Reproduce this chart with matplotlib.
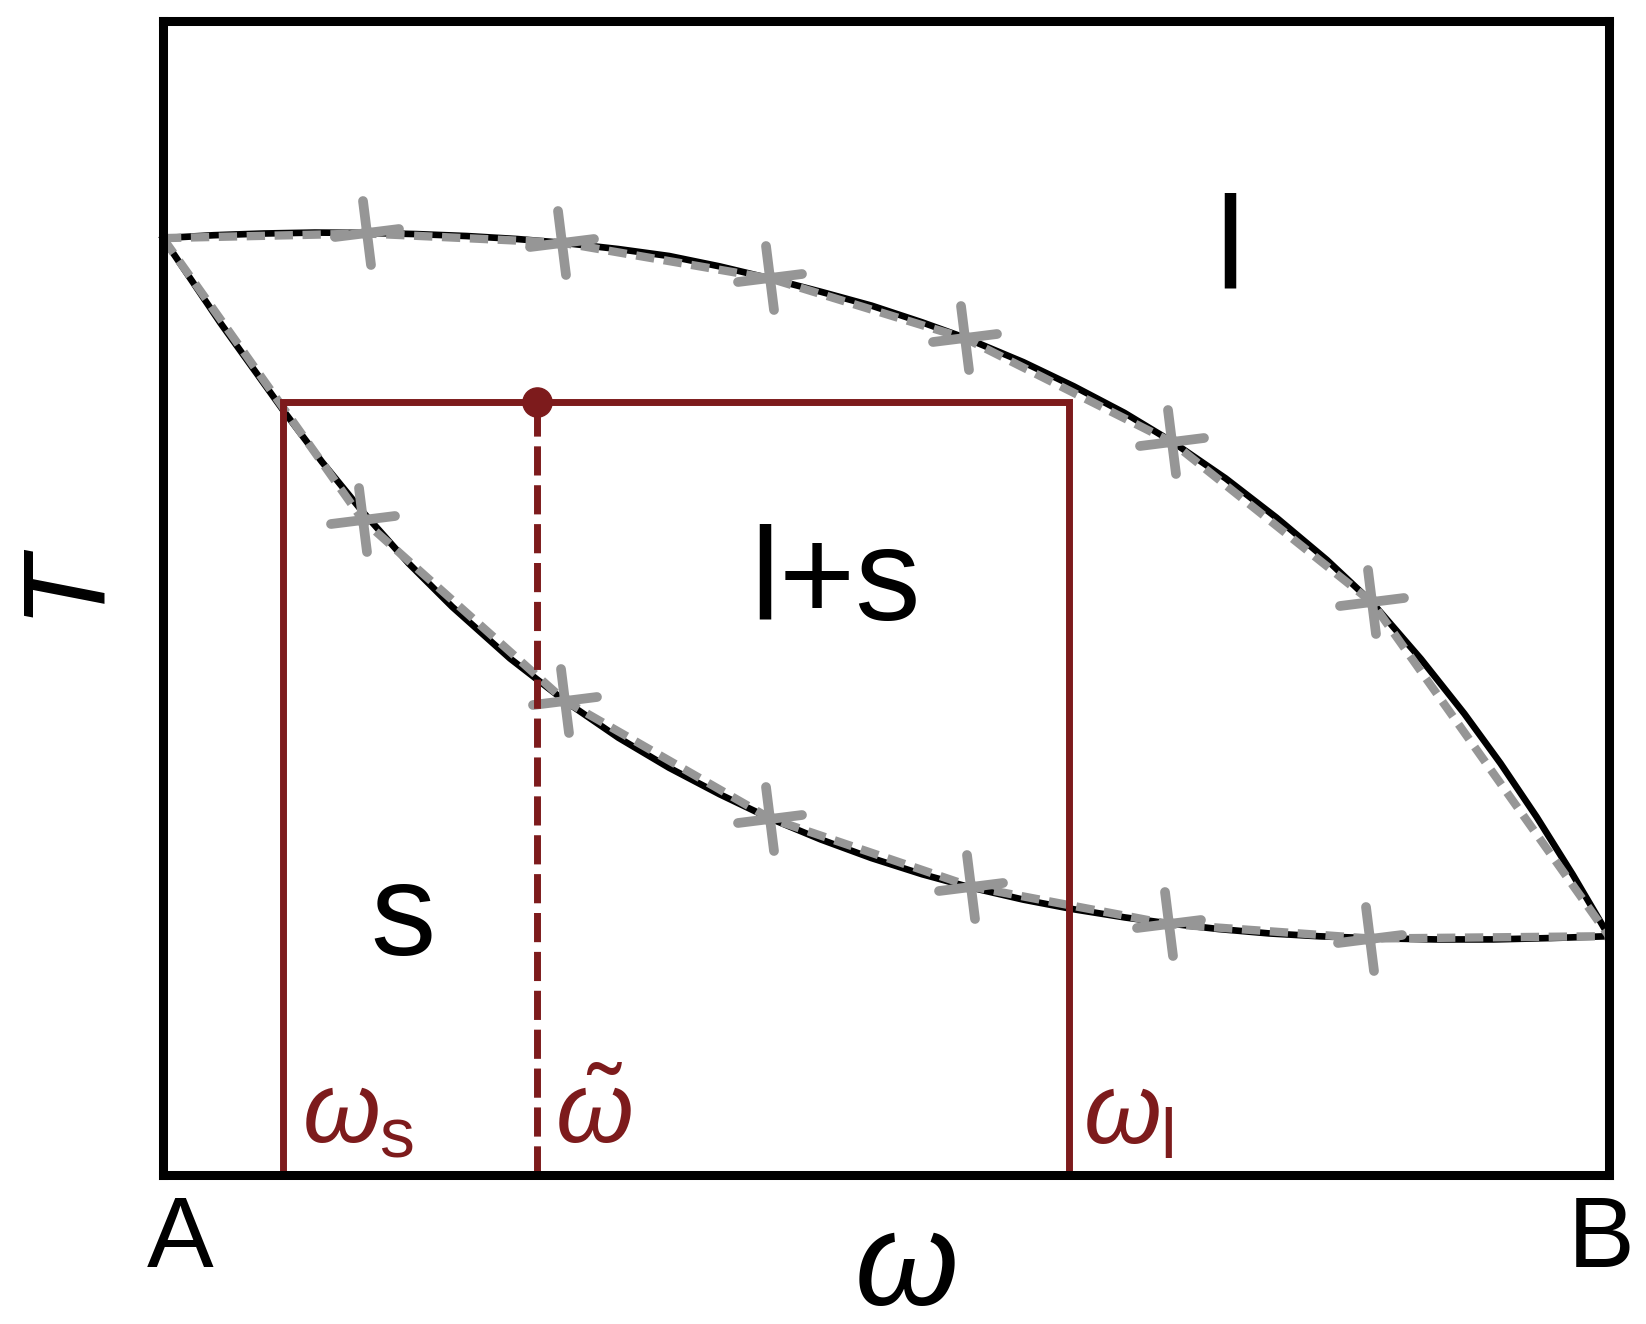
import matplotlib.pyplot as plt
from matplotlib.markers import MarkerStyle
from matplotlib.transforms import Affine2D

plt.rcParams['font.family'] = ['Liberation Sans', 'DejaVu Sans']
plt.rcParams['mathtext.fontset'] = 'custom'
plt.rcParams['mathtext.rm'] = 'Liberation Sans'
plt.rcParams['mathtext.it'] = 'Liberation Sans:italic'

# exact liquidus / solidus (x = omega from A=0 to B=1)
liq_x = [0.0, 0.035, 0.07, 0.105, 0.141, 0.175, 0.21, 0.245, 0.276, 0.315, 0.35, 0.385,
         0.420, 0.455, 0.49, 0.525, 0.555, 0.595, 0.63, 0.665, 0.698, 0.735, 0.77, 0.805,
         0.836, 0.87, 0.90, 0.925, 0.95, 0.975, 1.0]
liq_y = [0.812, 0.8145, 0.816, 0.8168, 0.8165, 0.8155, 0.8138, 0.8112, 0.808, 0.8025, 0.7965, 0.7875,
         0.777, 0.7655, 0.7535, 0.739, 0.7255, 0.7045, 0.6835, 0.6605, 0.6355, 0.6037, 0.5698, 0.533,
         0.4965, 0.4472, 0.3998, 0.3568, 0.3103, 0.2603, 0.207]
sol_x = [0.0, 0.04, 0.083, 0.11, 0.138, 0.17, 0.20, 0.24, 0.278, 0.315, 0.35, 0.385,
         0.420, 0.455, 0.49, 0.525, 0.559, 0.595, 0.63, 0.665, 0.696, 0.73, 0.765, 0.80,
         0.835, 0.88, 0.92, 0.96, 1.0]
sol_y = [0.812, 0.738, 0.663, 0.618, 0.575, 0.530, 0.4925, 0.4477, 0.4108, 0.379, 0.353, 0.330,
         0.309, 0.2908, 0.2747, 0.2607, 0.2491, 0.2387, 0.2303, 0.2233, 0.218, 0.2132, 0.2094, 0.2069,
         0.2053, 0.2042, 0.2042, 0.2054, 0.207]

# numerical solution (grey dashed, crosses at the nodes)
liq_num_x = [0.0, 0.141, 0.276, 0.420, 0.555, 0.698, 0.836, 1.0]
liq_num_y = [0.812, 0.816, 0.808, 0.777, 0.725, 0.635, 0.4965, 0.207]
sol_num_x = [0.0, 0.138, 0.278, 0.420, 0.559, 0.696, 0.835, 1.0]
sol_num_y = [0.812, 0.568, 0.411, 0.309, 0.250, 0.2175, 0.205, 0.207]

# lever rule construction
w_s = 0.0833
w_tilde = 0.259
w_l = 0.6265
T_level = 0.670

red = '#7d1b1c'
grey = '#969696'

fig = plt.figure(figsize=(16.46, 13.24), dpi=100)
ax = fig.add_axes([0.099, 0.1125, 0.8785, 0.8715])
ax.set_xlim(0, 1)
ax.set_ylim(0, 1)
ax.set_xticks([])
ax.set_yticks([])
for sp in ax.spines.values():
    sp.set_linewidth(6.5)
    sp.set_zorder(6)

ax.plot(liq_x, liq_y, color='black', lw=4.8, zorder=2, clip_on=False)
ax.plot(sol_x, sol_y, color='black', lw=4.8, zorder=2, clip_on=False)

cross = MarkerStyle('+', transform=Affine2D().rotate_deg(7), capstyle='round')
for xs, ys in [(liq_num_x, liq_num_y), (sol_num_x, sol_num_y)]:
    ax.plot(xs, ys, color=grey, lw=6, dashes=(2.2, 1.15), zorder=3, clip_on=False)
    ax.plot(xs[1:-1], ys[1:-1], ls='none', marker=cross, ms=46, mew=7,
            color=grey, zorder=3)

ax.plot([w_s, w_s, w_l, w_l], [0, T_level, T_level, 0], color=red, lw=5,
        solid_joinstyle='miter', zorder=4)
ax.plot([w_tilde, w_tilde], [0, T_level], color=red, lw=5, dashes=(4.2, 1.4), zorder=4)
ax.plot(w_tilde, T_level, 'o', color=red, ms=21, zorder=5)

ax.text(0.096, 0.028, r'$\omega_{\rm s}$', color=red, fontsize=72, ha='left', va='baseline')
ax.text(0.271, 0.028, r'$\tilde{\omega}$', color=red, fontsize=72, ha='left', va='baseline')
ax.text(0.636, 0.028, r'$\omega_{\rm l}$', color=red, fontsize=72, ha='left', va='baseline')

ax.text(0.738, 0.768, 'l', fontsize=94, ha='center', va='baseline')
ax.text(0.4654, 0.481, 'l+s', fontsize=94, ha='center', va='baseline')
ax.text(0.166, 0.1906, 's', fontsize=94, ha='center', va='baseline')

ax.text(0.012, -0.0797, 'A', fontsize=72, ha='center', va='baseline', clip_on=False)
ax.text(0.9945, -0.0797, 'B', fontsize=72, ha='center', va='baseline', clip_on=False)
ax.text(0.513, -0.1125, r'$\omega$', fontsize=96, ha='center', va='baseline', clip_on=False)
ax.text(-0.0606, 0.5087, r'$T$', fontsize=84, ha='center', va='center', rotation=90,
        transform=ax.transAxes)

fig.savefig('out.png', dpi=100)
